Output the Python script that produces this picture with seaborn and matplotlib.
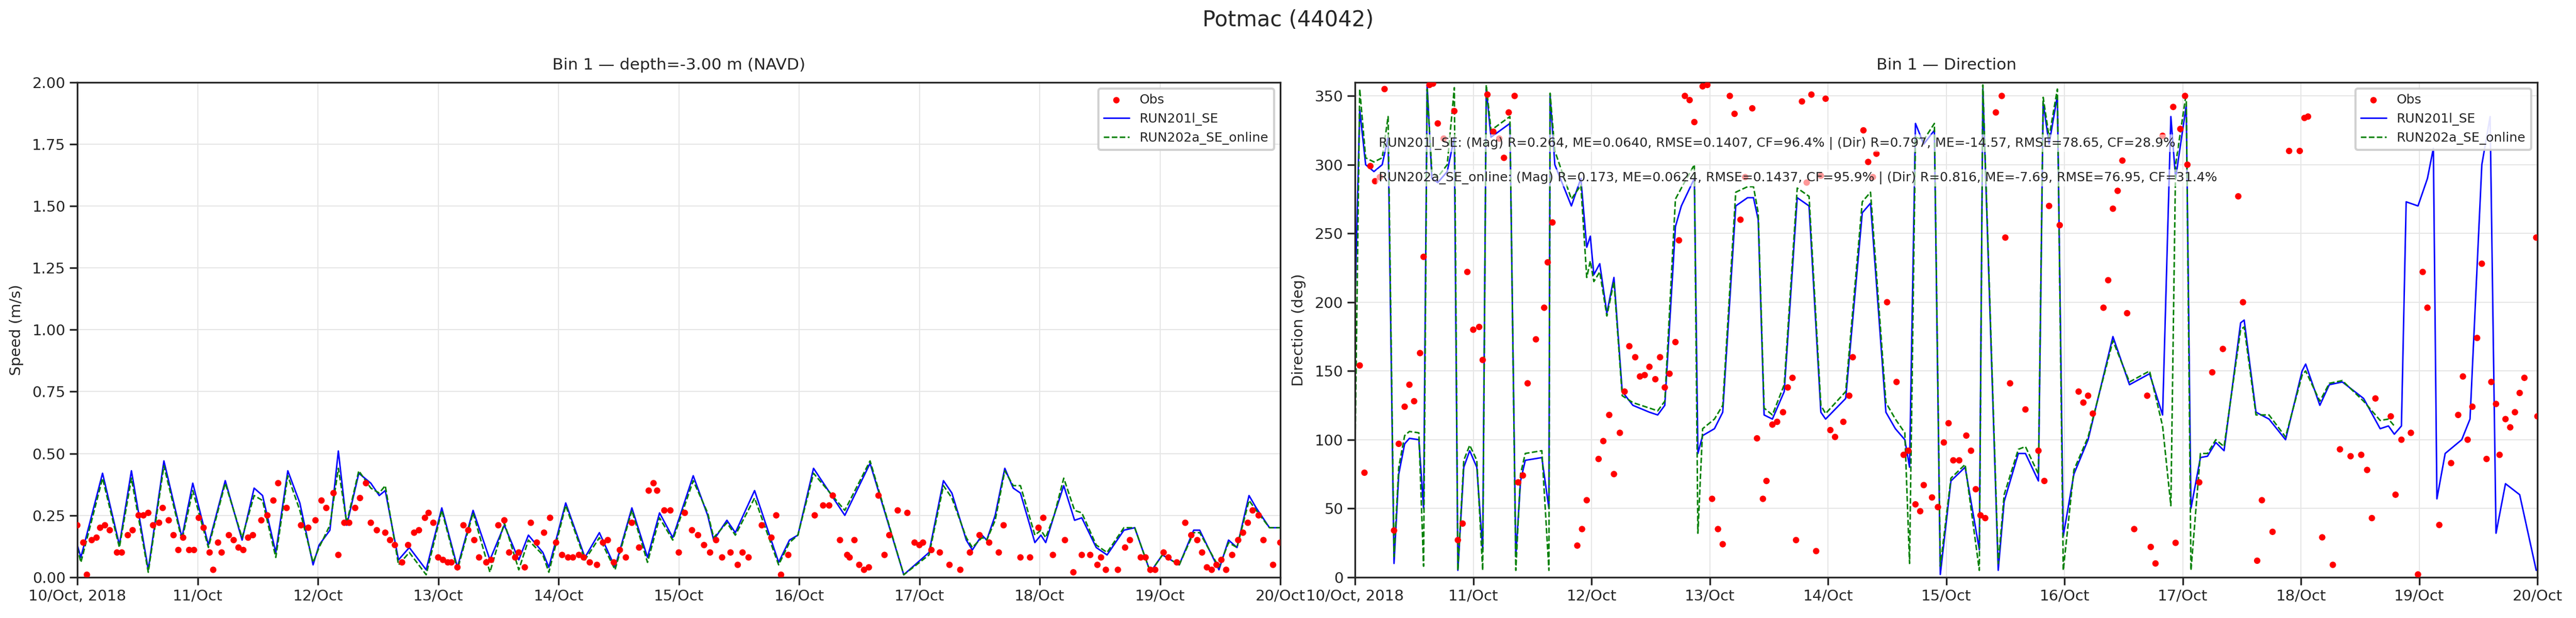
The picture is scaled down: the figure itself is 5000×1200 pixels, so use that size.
import numpy as np
import pandas as pd
import matplotlib
matplotlib.use("Agg")
import matplotlib.pyplot as plt
import seaborn as sns

START = pd.Timestamp("2018-10-10")

# ---- speed panel (days since 10 Oct 00:00) ----
spd_t = [0.00, 0.03, 0.21, 0.35, 0.45, 0.59, 0.72, 0.87, 0.96, 1.09, 1.23, 1.37, 1.47, 1.54, 1.65, 1.75,
         1.85, 1.96, 2.01, 2.10, 2.17, 2.24, 2.34, 2.44, 2.51, 2.56, 2.67, 2.76, 2.90, 3.03, 3.16, 3.29,
         3.43, 3.55, 3.67, 3.75, 3.87, 3.92, 4.06, 4.22, 4.34, 4.47, 4.61, 4.74, 4.84, 4.95, 5.12, 5.24,
         5.29, 5.40, 5.47, 5.63, 5.83, 5.92, 5.99, 6.12, 6.38, 6.59, 6.87, 7.08, 7.20, 7.27, 7.39, 7.44,
         7.52, 7.56, 7.63, 7.71, 7.78, 7.84, 7.96, 8.01, 8.05, 8.12, 8.20, 8.29, 8.35, 8.47, 8.56, 8.70,
         8.79, 8.92, 9.02, 9.16, 9.28, 9.33, 9.49, 9.57, 9.64, 9.74, 9.80, 9.91, 10.00]
spd_run201 = [0.13, 0.08, 0.42, 0.13, 0.43, 0.03, 0.47, 0.16, 0.38, 0.13, 0.39, 0.15, 0.36, 0.33, 0.10, 0.43,
              0.30, 0.05, 0.13, 0.19, 0.51, 0.21, 0.42, 0.38, 0.33, 0.35, 0.07, 0.12, 0.03, 0.28, 0.04, 0.27,
              0.07, 0.21, 0.07, 0.17, 0.10, 0.04, 0.30, 0.08, 0.18, 0.04, 0.28, 0.08, 0.26, 0.16, 0.41, 0.25,
              0.15, 0.23, 0.18, 0.35, 0.06, 0.15, 0.17, 0.44, 0.25, 0.46, 0.01, 0.10, 0.39, 0.34, 0.15, 0.11,
              0.17, 0.15, 0.25, 0.44, 0.36, 0.34, 0.14, 0.17, 0.14, 0.25, 0.37, 0.23, 0.24, 0.12, 0.09, 0.19,
              0.20, 0.02, 0.09, 0.05, 0.19, 0.19, 0.03, 0.15, 0.12, 0.33, 0.28, 0.20, 0.20]
spd_run202 = [0.12, 0.06, 0.40, 0.12, 0.40, 0.02, 0.45, 0.15, 0.35, 0.12, 0.38, 0.16, 0.33, 0.31, 0.08, 0.41,
              0.27, 0.06, 0.12, 0.21, 0.44, 0.22, 0.43, 0.36, 0.34, 0.37, 0.05, 0.10, 0.01, 0.27, 0.03, 0.26,
              0.02, 0.22, 0.03, 0.15, 0.09, 0.02, 0.29, 0.07, 0.16, 0.03, 0.27, 0.06, 0.24, 0.15, 0.39, 0.26,
              0.16, 0.22, 0.17, 0.32, 0.05, 0.14, 0.17, 0.42, 0.27, 0.47, 0.01, 0.09, 0.37, 0.32, 0.16, 0.12,
              0.16, 0.15, 0.23, 0.43, 0.37, 0.37, 0.17, 0.19, 0.16, 0.25, 0.40, 0.27, 0.26, 0.13, 0.10, 0.20,
              0.20, 0.02, 0.09, 0.05, 0.18, 0.18, 0.04, 0.14, 0.12, 0.31, 0.27, 0.20, 0.20]
obs_spd_t = [0.00, 0.05, 0.08, 0.12, 0.16, 0.19, 0.23, 0.27, 0.33, 0.37, 0.42, 0.46, 0.51, 0.55, 0.59, 0.63,
             0.68, 0.71, 0.76, 0.80, 0.84, 0.88, 0.93, 0.97, 1.01, 1.05, 1.10, 1.13, 1.17, 1.20, 1.26, 1.30,
             1.34, 1.38, 1.42, 1.46, 1.53, 1.58, 1.63, 1.67, 1.74, 1.86, 1.92, 1.98, 2.03, 2.07, 2.13, 2.17,
             2.22, 2.26, 2.31, 2.35, 2.40, 2.44, 2.49, 2.56, 2.60, 2.64, 2.70, 2.75, 2.80, 2.84, 2.89, 2.92,
             2.96, 3.00, 3.04, 3.08, 3.11, 3.16, 3.21, 3.25, 3.30, 3.34, 3.40, 3.44, 3.50, 3.55, 3.59, 3.64,
             3.67, 3.72, 3.77, 3.82, 3.88, 3.93, 3.98, 4.03, 4.08, 4.12, 4.17, 4.21, 4.26, 4.32, 4.37, 4.41,
             4.46, 4.51, 4.56, 4.61, 4.67, 4.75, 4.79, 4.82, 4.88, 4.93, 5.00, 5.05, 5.11, 5.16, 5.21, 5.26,
             5.31, 5.36, 5.43, 5.49, 5.53, 5.58, 5.69, 5.77, 5.81, 5.85, 5.91, 6.13, 6.20, 6.25, 6.28, 6.34,
             6.40, 6.42, 6.46, 6.50, 6.54, 6.58, 6.66, 6.71, 6.75, 6.82, 6.90, 6.96, 7.00, 7.03, 7.10, 7.17,
             7.25, 7.34, 7.42, 7.50, 7.58, 7.66, 7.70, 7.84, 7.92, 7.99, 8.03, 8.11, 8.21, 8.28, 8.35, 8.42,
             8.48, 8.51, 8.55, 8.65, 8.71, 8.75, 8.84, 8.88, 8.92, 8.96, 9.03, 9.07, 9.14, 9.21, 9.26, 9.31,
             9.35, 9.39, 9.43, 9.47, 9.51, 9.55, 9.60, 9.65, 9.69, 9.73, 9.77, 9.82, 9.86, 9.94, 10.00]
obs_spd = [0.21, 0.14, 0.01, 0.15, 0.16, 0.20, 0.21, 0.19, 0.10, 0.10, 0.17, 0.19, 0.25, 0.25, 0.26, 0.21,
           0.22, 0.28, 0.23, 0.17, 0.11, 0.16, 0.11, 0.11, 0.24, 0.20, 0.10, 0.03, 0.14, 0.10, 0.17, 0.15,
           0.12, 0.11, 0.16, 0.17, 0.23, 0.25, 0.31, 0.38, 0.28, 0.21, 0.20, 0.23, 0.31, 0.28, 0.34, 0.09,
           0.22, 0.22, 0.28, 0.32, 0.38, 0.22, 0.19, 0.18, 0.15, 0.13, 0.06, 0.13, 0.18, 0.19, 0.24, 0.26,
           0.22, 0.08, 0.07, 0.06, 0.06, 0.04, 0.21, 0.19, 0.15, 0.08, 0.06, 0.07, 0.21, 0.23, 0.10, 0.08,
           0.10, 0.04, 0.22, 0.14, 0.18, 0.24, 0.14, 0.09, 0.08, 0.08, 0.09, 0.08, 0.06, 0.05, 0.14, 0.15,
           0.06, 0.11, 0.08, 0.22, 0.12, 0.35, 0.38, 0.35, 0.27, 0.27, 0.10, 0.26, 0.19, 0.17, 0.13, 0.10,
           0.15, 0.08, 0.10, 0.05, 0.10, 0.08, 0.21, 0.16, 0.25, 0.01, 0.09, 0.25, 0.29, 0.29, 0.33, 0.15,
           0.09, 0.08, 0.15, 0.05, 0.03, 0.04, 0.33, 0.09, 0.17, 0.27, 0.26, 0.14, 0.13, 0.14, 0.11, 0.10,
           0.05, 0.03, 0.10, 0.17, 0.14, 0.10, 0.21, 0.08, 0.08, 0.20, 0.24, 0.09, 0.15, 0.02, 0.09, 0.09,
           0.05, 0.08, 0.03, 0.03, 0.12, 0.15, 0.08, 0.08, 0.03, 0.03, 0.10, 0.08, 0.06, 0.22, 0.17, 0.15,
           0.10, 0.04, 0.03, 0.05, 0.07, 0.03, 0.09, 0.15, 0.18, 0.22, 0.27, 0.25, 0.15, 0.05, 0.14]

# ---- direction panel ----
dir_t = [0.00, 0.04, 0.09, 0.16, 0.23, 0.28, 0.33, 0.37, 0.42, 0.46, 0.54, 0.58, 0.61, 0.65, 0.70, 0.78,
         0.84, 0.87, 0.92, 0.97, 1.03, 1.08, 1.11, 1.15, 1.31, 1.36, 1.40, 1.44, 1.58, 1.64, 1.65, 1.69,
         1.83, 1.91, 1.96, 1.99, 2.02, 2.07, 2.13, 2.19, 2.26, 2.35, 2.49, 2.56, 2.62, 2.71, 2.76, 2.87,
         2.90, 2.94, 3.04, 3.11, 3.22, 3.32, 3.37, 3.41, 3.46, 3.53, 3.63, 3.74, 3.84, 3.94, 3.98, 4.15,
         4.29, 4.36, 4.49, 4.57, 4.65, 4.69, 4.74, 4.81, 4.90, 4.95, 5.04, 5.16, 5.28, 5.31, 5.44, 5.49,
         5.61, 5.67, 5.78, 5.82, 5.87, 5.94, 5.99, 6.08, 6.20, 6.41, 6.55, 6.72, 6.83, 6.90, 6.94, 7.03,
         7.07, 7.15, 7.21, 7.28, 7.35, 7.49, 7.52, 7.62, 7.73, 7.87, 8.01, 8.04, 8.16, 8.24, 8.35, 8.53,
         8.67, 8.74, 8.79, 8.85, 8.89, 8.99, 9.07, 9.12, 9.15, 9.22, 9.36, 9.43, 9.53, 9.60, 9.65, 9.73,
         9.85, 9.99]
dir_run201 = [200, 340, 300, 295, 300, 320, 10, 75, 97, 101, 100, 50, 358, 290, 287, 295,
              320, 5, 80, 92, 80, 20, 355, 320, 330, 15, 70, 85, 87, 50, 350, 300,
              270, 290, 240, 248, 220, 228, 192, 218, 135, 125, 120, 118, 125, 255, 270, 290,
              90, 103, 108, 120, 270, 276, 276, 260, 118, 115, 135, 276, 270, 120, 115, 130,
              265, 272, 120, 108, 100, 80, 330, 315, 325, 2, 70, 80, 20, 355, 5, 55,
              90, 90, 70, 345, 315, 350, 30, 75, 100, 175, 140, 148, 118, 335, 290, 343,
              50, 87, 88, 98, 92, 185, 187, 120, 115, 100, 150, 155, 125, 140, 142, 130,
              108, 110, 104, 110, 273, 270, 290, 312, 57, 90, 100, 115, 300, 335, 32, 68,
              60, 5]
dir_run202_t = dir_t[:115]
dir_run202 = [90, 355, 305, 302, 305, 335, 15, 80, 103, 106, 105, 8, 355, 295, 291, 300,
              356, 5, 85, 96, 85, 5, 358, 325, 335, 5, 75, 90, 92, 5, 352, 310,
              275, 285, 218, 230, 215, 222, 190, 215, 132, 127, 123, 121, 128, 275, 283, 300,
              32, 108, 115, 125, 280, 284, 284, 265, 123, 118, 140, 283, 277, 125, 119, 135,
              273, 280, 127, 115, 105, 10, 320, 318, 330, 8, 72, 82, 5, 358, 10, 60,
              93, 95, 75, 349, 320, 355, 5, 78, 102, 172, 142, 150, 110, 52, 300, 352,
              5, 90, 90, 100, 95, 180, 182, 118, 118, 102, 147, 150, 128, 141, 143, 128,
              114, 115, 110]
obs_dir_t = [0.04, 0.08, 0.13, 0.17, 0.21, 0.25, 0.33, 0.37, 0.42, 0.46, 0.50, 0.55, 0.58, 0.63, 0.66, 0.70,
             0.75, 0.84, 0.87, 0.91, 0.95, 1.00, 1.05, 1.08, 1.12, 1.17, 1.22, 1.26, 1.30, 1.35, 1.38, 1.42,
             1.46, 1.53, 1.60, 1.63, 1.67, 1.88, 1.92, 1.96, 2.06, 2.10, 2.15, 2.19, 2.24, 2.28, 2.32, 2.37,
             2.41, 2.45, 2.49, 2.54, 2.58, 2.62, 2.66, 2.71, 2.74, 2.79, 2.83, 2.87, 2.94, 2.98, 3.02, 3.07,
             3.11, 3.17, 3.21, 3.26, 3.30, 3.36, 3.40, 3.45, 3.48, 3.53, 3.57, 3.62, 3.66, 3.70, 3.73, 3.78,
             3.82, 3.86, 3.90, 3.94, 3.98, 4.02, 4.06, 4.13, 4.18, 4.21, 4.30, 4.34, 4.38, 4.41, 4.50, 4.58,
             4.64, 4.68, 4.74, 4.78, 4.81, 4.88, 4.93, 4.98, 5.02, 5.06, 5.11, 5.17, 5.21, 5.25, 5.29, 5.33,
             5.42, 5.47, 5.50, 5.54, 5.67, 5.78, 5.83, 5.87, 5.96, 6.12, 6.16, 6.20, 6.24, 6.33, 6.37, 6.41,
             6.45, 6.49, 6.53, 6.59, 6.70, 6.73, 6.77, 6.83, 6.92, 6.94, 6.98, 7.02, 7.04, 7.14, 7.25, 7.34,
             7.47, 7.51, 7.63, 7.67, 7.76, 7.90, 7.99, 8.03, 8.06, 8.18, 8.27, 8.33, 8.42, 8.51, 8.56, 8.60,
             8.63, 8.76, 8.80, 8.85, 8.93, 8.99, 9.03, 9.07, 9.17, 9.27, 9.33, 9.37, 9.41, 9.45, 9.49, 9.53,
             9.57, 9.61, 9.65, 9.68, 9.73, 9.77, 9.81, 9.85, 9.89, 9.99, 10.00]
obs_dir = [154, 76, 299, 288, 291, 355, 34, 97, 124, 140, 128, 163, 233, 358, 359, 330,
           319, 339, 27, 39, 222, 180, 182, 158, 351, 324, 319, 305, 338, 350, 69, 74,
           141, 173, 196, 229, 258, 23, 35, 56, 86, 99, 118, 75, 105, 135, 168, 160,
           146, 147, 153, 144, 160, 138, 148, 171, 245, 350, 347, 331, 357, 358, 57, 35,
           24, 350, 337, 260, 291, 341, 101, 57, 70, 111, 113, 120, 138, 145, 27, 346,
           287, 351, 19, 292, 348, 107, 102, 113, 132, 160, 325, 302, 291, 308, 200, 142,
           89, 92, 53, 48, 67, 58, 51, 98, 112, 85, 85, 103, 92, 64, 45, 43,
           338, 350, 247, 141, 122, 92, 70, 270, 256, 135, 127, 132, 119, 196, 216, 268,
           281, 303, 192, 35, 132, 22, 10, 321, 342, 25, 326, 350, 300, 69, 149, 166,
           277, 200, 12, 56, 33, 310, 310, 334, 335, 29, 9, 93, 88, 89, 78, 43,
           130, 117, 60, 100, 105, 2, 222, 196, 38, 83, 118, 146, 100, 124, 174, 228,
           86, 142, 126, 89, 115, 109, 120, 134, 145, 247, 117]

stats_201 = ("RUN201l_SE: (Mag) R=0.264, ME=0.0640, RMSE=0.1407, CF=96.4% | "
             "(Dir) R=0.797, ME=-14.57, RMSE=78.65, CF=28.9%")
stats_202 = ("RUN202a_SE_online: (Mag) R=0.173, ME=0.0624, RMSE=0.1437, CF=95.9% | "
             "(Dir) R=0.816, ME=-7.69, RMSE=76.95, CF=31.4%")

day_ticks = [START + pd.Timedelta(days=d) for d in range(11)]
day_labels = ["10/Oct, 2018"] + [t.strftime("%d/%b") for t in day_ticks[1:]]


def to_time(days):
    return START + pd.to_timedelta(np.asarray(days, dtype=float), unit="D")


sns.set_style("ticks")
plt.rcParams["font.family"] = ["DejaVu Sans"]

fig = plt.figure(figsize=(16.667, 4), dpi=300)
ax1 = fig.add_axes([0.030, 0.066, 0.467, 0.801])
ax2 = fig.add_axes([0.526, 0.066, 0.459, 0.801])


def draw_panel(ax, ot, ov, t1, v1, t2, v2):
    sns.scatterplot(x=to_time(ot), y=ov, ax=ax, color="red", s=9, edgecolor="none",
                    label="Obs", zorder=3)
    sns.lineplot(x=to_time(t1), y=v1, ax=ax, color="blue", lw=0.7, label="RUN201l_SE",
                 sort=False, estimator=None)
    sns.lineplot(x=to_time(t2), y=v2, ax=ax, color="green", lw=0.7, linestyle="--",
                 label="RUN202a_SE_online", sort=False, estimator=None)
    ax.set_xlim(day_ticks[0], day_ticks[-1])
    ax.set_xticks(day_ticks)
    ax.set_xticklabels(day_labels, fontsize=7)
    ax.set_xlabel("")
    ax.tick_params(axis="both", labelsize=7, pad=2)
    ax.grid(True, color="#e6e6e6", lw=0.5)
    ax.legend(loc="upper right", fontsize=6, framealpha=0.9)


draw_panel(ax1, obs_spd_t, obs_spd, spd_t, spd_run201, spd_t, spd_run202)
ax1.set_ylim(0, 2.0)
ax1.set_yticks(np.arange(0, 2.01, 0.25))
ax1.set_ylabel("Speed (m/s)", fontsize=7)
ax1.set_title("Bin 1 — depth=-3.00 m (NAVD)", fontsize=7.5)

draw_panel(ax2, obs_dir_t, obs_dir, dir_t, dir_run201, dir_run202_t, dir_run202)
ax2.set_ylim(0, 360)
ax2.set_yticks(np.arange(0, 351, 50))
ax2.set_ylabel("Direction (deg)", fontsize=7)
ax2.set_title("Bin 1 — Direction", fontsize=7.5)
box = dict(facecolor="white", alpha=0.6, edgecolor="none", pad=1)
ax2.text(0.02, 0.87, stats_201, transform=ax2.transAxes, fontsize=6, bbox=box, zorder=5)
ax2.text(0.02, 0.80, stats_202, transform=ax2.transAxes, fontsize=6, bbox=box, zorder=5)

fig.suptitle("Potmac (44042)", fontsize=10, y=0.985)
fig.savefig("out.png", dpi=300)
